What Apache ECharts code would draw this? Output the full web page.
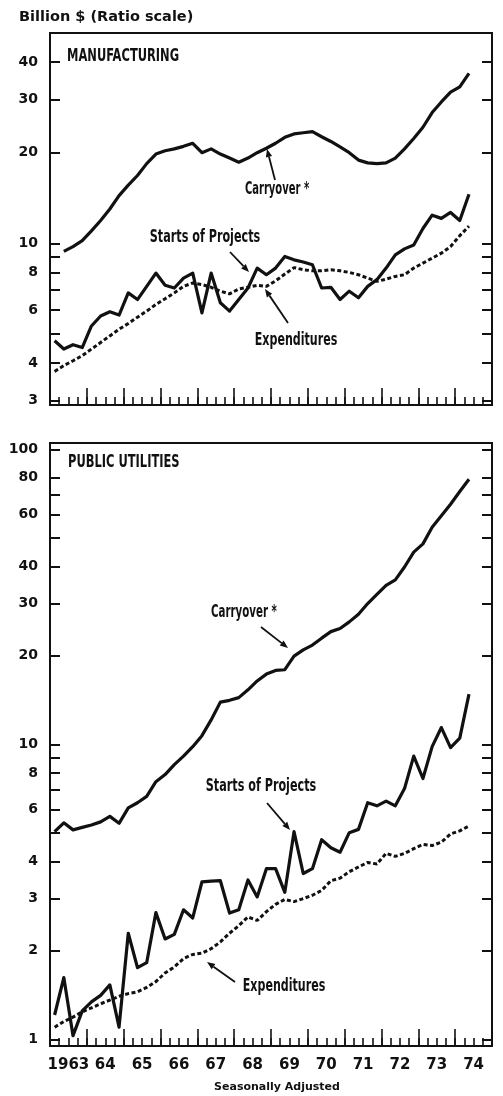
<!DOCTYPE html>
<html>
<head>
<meta charset="utf-8">
<script src="https://cdn.jsdelivr.net/npm/echarts@6/dist/echarts.min.js"></script>
<style>
  html, body { margin: 0; padding: 0; background: #fff; }
  #chart { width: 503px; height: 1096px; }
</style>
</head>
<body>
<div id="chart"></div>
<script>
// quarterly, seasonally adjusted, billions of dollars (ratio scale)
const YEARS = [1963, 1964, 1965, 1966, 1967, 1968, 1969, 1970, 1971, 1972, 1973, 1974];
const YEAR_LABELS = ['1963', '64', '65', '66', '67', '68', '69', '70', '71', '72', '73', '74'];
const QUARTERS = YEARS.flatMap(y => [1, 2, 3, 4].map(q => y + 'Q' + q));

// manufacturing, from 1963Q1
const mfgCarryover = [null, 9.4, 9.75, 10.2, 11.0, 11.9, 13.0, 14.4, 15.6, 16.8, 18.4, 19.8,
  20.3, 20.6, 21.0, 21.5, 20.0, 20.6, 19.8, 19.2, 18.6, 19.2, 20.0, 20.7,
  21.5, 22.5, 23.1, 23.3, 23.5, 22.6, 21.8, 20.9, 20.0, 18.9, 18.5, 18.4,
  18.5, 19.2, 20.6, 22.3, 24.3, 27.2, 29.5, 31.8, 33.1, 36.7];
const mfgStarts = [4.74, 4.45, 4.6, 4.5, 5.31, 5.73, 5.92, 5.77, 6.84, 6.5, 7.19, 7.96,
  7.25, 7.1, 7.66, 7.96, 5.87, 7.96, 6.34, 5.95, 6.5, 7.1, 8.27, 7.86,
  8.27, 9.04, 8.81, 8.66, 8.48, 7.1, 7.14, 6.5, 6.93, 6.59, 7.19, 7.57,
  8.27, 9.15, 9.58, 9.87, 11.2, 12.4, 12.1, 12.66, 11.9, 14.55];
const mfgExpend = [3.75, 3.92, 4.07, 4.23, 4.45, 4.68, 4.92, 5.18, 5.41, 5.68, 5.95, 6.26,
  6.54, 6.84, 7.19, 7.38, 7.29, 7.14, 6.93, 6.79, 7.05, 7.14, 7.25, 7.19,
  7.5, 7.9, 8.3, 8.17, 8.1, 8.1, 8.17, 8.1, 8.0, 7.86, 7.66, 7.47,
  7.6, 7.76, 7.86, 8.27, 8.59, 8.92, 9.27, 9.75, 10.6, 11.4];

// public utilities, from 1963Q1
const utilCarryover = [5.06, 5.42, 5.13, 5.23, 5.33, 5.46, 5.70, 5.40, 6.09, 6.34, 6.66, 7.47,
  7.90, 8.54, 9.12, 9.82, 10.7, 12.1, 13.9, 14.1, 14.4, 15.3, 16.4, 17.3,
  17.8, 17.9, 19.9, 20.9, 21.7, 22.9, 24.1, 24.7, 26.0, 27.6, 30.0, 32.2,
  34.6, 36.1, 39.9, 44.8, 47.8, 54.4, 59.5, 65.1, 71.9, 79.1];
const utilStarts = [1.21, 1.62, 1.03, 1.25, 1.34, 1.41, 1.53, 1.10, 2.29, 1.75, 1.82, 2.69,
  2.19, 2.27, 2.75, 2.58, 3.42, 3.44, 3.45, 2.68, 2.75, 3.47, 3.04, 3.79,
  3.79, 3.15, 5.06, 3.65, 3.79, 4.75, 4.46, 4.31, 5.02, 5.15, 6.34, 6.19,
  6.42, 6.19, 7.08, 9.12, 7.66, 9.82, 11.4, 9.75, 10.5, 14.8];
const utilExpend = [1.10, 1.15, 1.19, 1.24, 1.28, 1.32, 1.36, 1.40, 1.43, 1.45, 1.50, 1.57,
  1.68, 1.76, 1.88, 1.94, 1.96, 2.03, 2.14, 2.29, 2.43, 2.60, 2.53, 2.71,
  2.87, 2.98, 2.93, 3.00, 3.08, 3.20, 3.45, 3.52, 3.70, 3.84, 3.98, 3.93,
  4.27, 4.17, 4.27, 4.43, 4.58, 4.54, 4.66, 4.97, 5.09, 5.29];

// y ticks
const MFG_TICKS = [3, 4, 5, 6, 7, 8, 9, 10, 20, 30, 40];
const MFG_LABELS = [3, 4, 6, 8, 10, 20, 30, 40];
const UTIL_TICKS = [1, 2, 3, 4, 5, 6, 7, 8, 9, 10, 20, 30, 40, 50, 60, 70, 80, 100];
const UTIL_LABELS = [1, 2, 3, 4, 6, 8, 10, 20, 30, 40, 60, 80, 100];

const black = '#111';
const numFont = '"DejaVu Sans", sans-serif';
const noteFont = '"Liberation Sans Narrow", "DejaVu Sans Condensed", sans-serif';

const chart = echarts.init(document.getElementById('chart'));

const axisLine = { show: true, lineStyle: { color: black, width: 2 } };

function xAxes(gridIndex, showLabels) {
  const tick = { color: black, width: 1.6 };
  return [
    {
      type: 'category', gridIndex, data: QUARTERS, position: 'bottom', boundaryGap: true,
      axisLine, splitLine: { show: false }, axisLabel: { show: false },
      axisTick: { show: true, inside: true, length: 8, interval: 0, lineStyle: tick }
    },
    {
      type: 'category', gridIndex, data: YEAR_LABELS, position: 'bottom', boundaryGap: true,
      axisLine, splitLine: { show: false },
      axisTick: { show: true, inside: true, length: 17, interval: 0, lineStyle: tick },
      axisLabel: {
        show: showLabels, interval: 0, margin: 12, color: black,
        fontFamily: numFont, fontWeight: 'bold', fontSize: 15
      }
    }
  ];
}

function yAxes(gridIndex, min, max, ticks, labels) {
  const base = {
    type: 'log', logBase: 10, gridIndex, min, max,
    axisLine, splitLine: { show: false }, minorTick: { show: false },
    axisTick: { show: true, inside: true, length: 10, customValues: ticks, lineStyle: { color: black, width: 2 } }
  };
  return [
    Object.assign({}, base, {
      position: 'left',
      axisLabel: {
        customValues: labels, margin: 12, color: black,
        fontFamily: numFont, fontWeight: 'bold', fontSize: 14
      }
    }),
    Object.assign({}, base, { position: 'right', axisLabel: { show: false } })
  ];
}

function line(name, data, xi, yi, dashed) {
  return {
    name, type: 'line', data, xAxisIndex: xi, yAxisIndex: yi,
    symbol: 'none', connectNulls: false,
    lineStyle: dashed
      ? { color: black, width: 3, type: [4, 2.5], cap: 'butt' }
      : { color: black, width: 3.2, join: 'round' }
  };
}

// condensed bold note, squeezed horizontally and stretched a little vertically about its anchor
function note(text, x, y, squeeze, align) {
  return {
    type: 'text', x, y, scaleX: squeeze, scaleY: 1.12,
    style: { text, fill: black, font: 'bold 15px ' + noteFont, align: align || 'center', verticalAlign: 'middle' }
  };
}

function arrow(x1, y1, x2, y2) {
  const a = Math.atan2(y2 - y1, x2 - x1), L = 8, W = 3.2;
  const bx = x2 - L * Math.cos(a), by = y2 - L * Math.sin(a);
  return {
    type: 'group',
    children: [
      { type: 'line', shape: { x1, y1, x2: bx, y2: by }, style: { stroke: black, lineWidth: 1.8 } },
      {
        type: 'polygon',
        shape: { points: [[x2, y2], [bx - W * Math.sin(a), by + W * Math.cos(a)], [bx + W * Math.sin(a), by - W * Math.cos(a)]] },
        style: { fill: black }
      }
    ]
  };
}

chart.setOption({
  animation: false,
  backgroundColor: '#fff',
  grid: [
    { left: 50, top: 33, width: 442, height: 372, show: true, borderColor: black, borderWidth: 2 },
    { left: 50, top: 443, width: 442, height: 603, show: true, borderColor: black, borderWidth: 2 }
  ],
  xAxis: [...xAxes(0, false), ...xAxes(1, true)],
  yAxis: [...yAxes(0, 2.9, 50, MFG_TICKS, MFG_LABELS), ...yAxes(1, 0.95, 105, UTIL_TICKS, UTIL_LABELS)],
  series: [
    line('Carryover', mfgCarryover, 0, 0),
    line('Starts of Projects', mfgStarts, 0, 0),
    line('Expenditures', mfgExpend, 0, 0, true),
    line('Carryover', utilCarryover, 2, 2),
    line('Starts of Projects', utilStarts, 2, 2),
    line('Expenditures', utilExpend, 2, 2, true)
  ],
  graphic: [
    { type: 'text', x: 19, y: 17, style: { text: 'Billion $ (Ratio scale)', fill: black, font: 'bold 14.5px ' + numFont, verticalAlign: 'middle' } },
    { type: 'text', x: 277, y: 1087, style: { text: 'Seasonally Adjusted', fill: black, font: 'bold 11px ' + numFont, align: 'center', verticalAlign: 'middle' } },
    note('MANUFACTURING', 67, 57, 0.85, 'left'),
    note('Carryover *', 277, 190, 0.74),
    arrow(275, 180, 267, 149),
    note('Starts of Projects', 205, 238, 0.83),
    arrow(230, 252, 249, 272),
    note('Expenditures', 296, 341, 0.82),
    arrow(288, 323, 265, 289),
    note('PUBLIC UTILITIES', 68, 463, 0.85, 'left'),
    note('Carryover *', 244, 613, 0.76),
    arrow(261, 627, 288, 648),
    note('Starts of Projects', 261, 787, 0.83),
    arrow(267, 803, 290, 830),
    note('Expenditures', 284, 987, 0.82),
    arrow(235, 982, 207, 962)
  ]
});
</script>
</body>
</html>
